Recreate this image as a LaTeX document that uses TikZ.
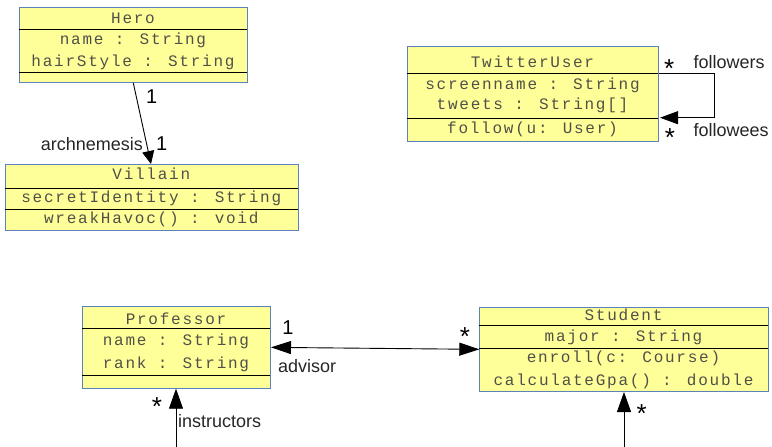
\documentclass[tikz,border=0pt]{standalone}
\usepackage{fontspec}
\setmainfont{Liberation Sans}
\newfontfamily\monofam[LetterSpace=11]{Liberation Mono}
\usetikzlibrary{arrows.meta,calc}
\definecolor{clsfill}{HTML}{FFFF99}
\definecolor{clsborder}{HTML}{5B82BA}
\definecolor{clstext}{HTML}{505048}
\tikzset{
  cls/.style={draw=clsborder, fill=clsfill, line width=1pt, inner sep=0pt, anchor=north west, rectangle},
  sepline/.style={draw=black, line width=0.9pt},
  mem/.style={inner sep=0pt, text=clstext, font=\monofam\fontsize{16}{19}\selectfont},
  lbl/.style={inner sep=0pt, text=black!85, font=\fontsize{18}{20}\selectfont},
  mult/.style={inner sep=0pt, text=black, font=\fontsize{20}{22}\selectfont},
  star/.style={inner sep=0pt, text=black, font=\fontsize{26}{28}\selectfont},
  assoc/.style={draw=black, line width=0.9pt, -{Triangle[length=18pt,width=13pt]}},
}
\begin{document}
\begin{tikzpicture}[x=1pt,y=-1pt]
\useasboundingbox (0,0) rectangle (772,447);
% Hero
\node[cls, minimum width=227.4pt, minimum height=75pt] (hero) at (19.3,7) {};
\draw[sepline] (19.3,29.3) -- (246.7,29.3);
\draw[sepline] (19.3,72.7) -- (246.7,72.7);
\node[mem] (heroT) at (133,18.3) {Hero};
\node[mem] (heroA1) at (133,40.7) {name : String};
\node[mem] (heroA2) at (133,62.7) {hairStyle : String};
% Villain
\node[cls, minimum width=292.7pt, minimum height=66pt] (villain) at (5,164) {};
\draw[sepline] (5,188.3) -- (297.7,188.3);
\draw[sepline] (5,209.3) -- (297.7,209.3);
\node[mem] (vilT) at (151.3,174) {Villain};
\node[mem] (vilA1) at (151.3,198.3) {secretIdentity : String};
\node[mem] (vilO1) at (151.3,219.5) {wreakHavoc() : void};
% TwitterUser
\node[cls, minimum width=251pt, minimum height=94.7pt] (tw) at (407,46) {};
\draw[sepline] (407,73.3) -- (658,73.3);
\draw[sepline] (407,118.3) -- (658,118.3);
\node[mem] (twT) at (532.5,61.3) {TwitterUser};
\node[mem] (twA1) at (532.5,85) {screenname : String};
\node[mem] (twA2) at (532.5,105.7) {tweets : String[]};
\node[mem] (twO1) at (532.5,129.3) {follow(u: User)};
% Professor
\node[cls, minimum width=188pt, minimum height=81.7pt] (prof) at (82,306) {};
\draw[sepline] (82,328.7) -- (270,328.7);
\draw[sepline] (82,375.7) -- (270,375.7);
\node[mem] (profT) at (176,319) {Professor};
\node[mem] (profA1) at (176,341.7) {name : String};
\node[mem] (profA2) at (176,364) {rank : String};
% Student
\node[cls, minimum width=288.4pt, minimum height=84.3pt] (stu) at (479.3,306.7) {};
\draw[sepline] (479.3,325.7) -- (767.7,325.7);
\draw[sepline] (479.3,348.3) -- (767.7,348.3);
\node[mem] (stuT) at (623.5,315) {Student};
\node[mem] (stuA1) at (623.5,337.3) {major : String};
\node[mem] (stuO1) at (623.5,358.3) {enroll(c: Course)};
\node[mem] (stuO2) at (623.5,381.7) {calculateGpa() : double};
% Hero -> Villain
\draw[assoc, -{Triangle[length=13pt,width=12pt]}] ($(hero.south west)+(114,0)$) -- ($(villain.north west)+(146,0)$);
\node[mult] (m1) at (151.7,96.7) {1};
\node[mult] (m2) at (161.7,143.3) {1};
\node[lbl, anchor=west] (archl) at (40.7,144.3) {archnemesis};
% Twitter self loop
\coordinate (loopA) at ($(tw.north east)+(0,27.3)$);
\coordinate (loopB) at ($(tw.north east)+(55.3,27.3)$);
\coordinate (loopC) at ($(tw.north east)+(55.3,71.7)$);
\coordinate (loopD) at ($(tw.north east)+(1,71.7)$);
\draw[assoc] (loopA) -- (loopB) -- (loopC) -- (loopD);
\node[star] (tws1) at (669.3,69) {*};
\node[star] (tws2) at (670,137.5) {*};
\node[lbl, anchor=west] (fl1) at (693.3,61.7) {followers};
\node[lbl, anchor=west] (fl2) at (693.3,130) {followees};
% advisor
\draw[assoc, {Triangle[length=20pt,width=13pt]}-{Triangle[length=20pt,width=13pt]}] (prof.east) -- (stu.west);
\node[mult] (am1) at (288,328) {1};
\node[star] (am2) at (465,337) {*};
\node[lbl, anchor=west] (advl) at (278,365.7) {advisor};
% instructors
\coordinate (ib) at (176,447);
\draw[assoc, -{Triangle[length=20pt,width=14pt]}] (ib) -- (ib |- prof.south);
\node[star] (is1) at (157,407) {*};
\node[lbl, anchor=west] (insl) at (178,421) {instructors};
% students
\coordinate (sb) at (624,447);
\draw[assoc, -{Triangle[length=20pt,width=14pt]}] (sb) -- (sb |- stu.south);
\node[star] (ss1) at (641.7,414) {*};
\end{tikzpicture}
\end{document}
